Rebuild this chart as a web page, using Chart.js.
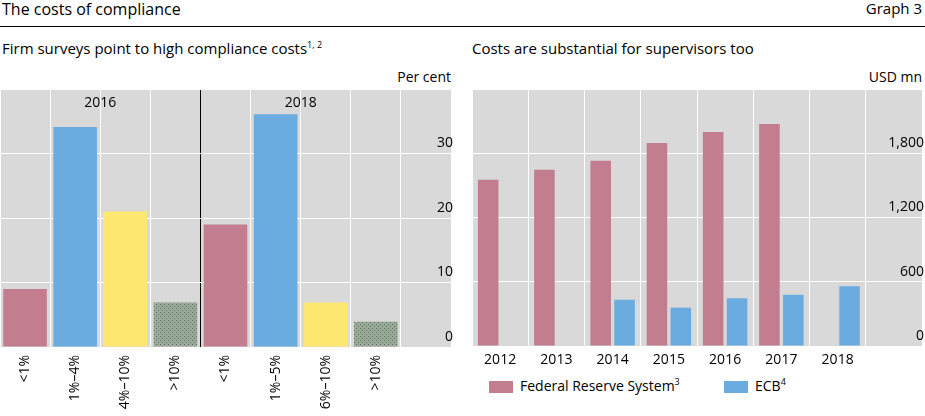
<!DOCTYPE html>
<html><head><meta charset="utf-8">
<script src="https://cdn.jsdelivr.net/npm/chart.js@4"></script>
<style>
body{margin:0;width:925px;height:416px;position:relative;font-family:"Open Sans",sans-serif;color:#000;background:#fff;overflow:hidden}
.t{position:absolute;white-space:nowrap}
canvas{position:absolute}
sup{font-size:9px;vertical-align:6px;line-height:0}
</style></head><body>
<div class="t" style="left:2px;top:-2px;font-size:16px">The costs of compliance</div>
<div class="t" style="right:3px;top:-2px;font-size:15px">Graph 3</div>
<div style="position:absolute;left:0;top:26px;width:925px;height:1px;background:#000"></div>
<div class="t" style="left:2px;top:38px;font-size:15px">Firm surveys point to high compliance costs<sup>1, 2</sup></div>
<div class="t" style="left:472px;top:38px;font-size:15px">Costs are substantial for supervisors too</div>
<div class="t" style="right:474px;top:67px;font-size:14px">Per cent</div>
<div class="t" style="right:3px;top:67px;font-size:14px">USD mn</div>
<div style="position:absolute;left:489px;top:381px;width:24px;height:12px;background:#c27e8f"></div>
<div class="t" style="left:520px;top:376px;font-size:14px">Federal Reserve System<sup>3</sup></div>
<div style="position:absolute;left:724px;top:381px;width:24px;height:12px;background:#6aace0"></div>
<div class="t" style="left:755px;top:376px;font-size:14px">ECB<sup>4</sup></div>
<canvas id="c1" style="left:0;top:60px"></canvas>
<canvas id="c2" style="left:465px;top:60px"></canvas>
<script>
const surveyCats = ['<1%','1%–4%','4%–10%','>10%','<1%','1%–5%','6%–10%','>10%',''];
const surveyVals = [9.0,34.1,21.0,6.9,19.0,36.1,6.9,3.9,null];
const groupLabels = ['2016','2018'];
const years = ['2012','2013','2014','2015','2016','2017','2018',''];
const fedVals = [1553,1646,1729,1896,1998,2072,null,null];
const ecbVals = [null,null,432,358,445,479,559,null];

const pc=document.createElement('canvas');pc.width=4;pc.height=4;
const px=pc.getContext('2d');px.fillStyle='#9aab9a';px.fillRect(0,0,4,4);px.fillStyle='#5e6e5e';px.fillRect(0,0,1,1);px.fillRect(2,2,1,1);
const greyPat=px.createPattern(pc,'repeat');
const cols=['#c27e8f','#6aace0','#ffe872',greyPat];
const font={family:'"Open Sans",sans-serif',size:14};
Chart.defaults.color='#000';Chart.defaults.font=font;
const bg={id:'bg',beforeDraw(c){const a=c.chartArea,x=c.ctx;x.save();x.fillStyle='#d9d9d9';x.fillRect(a.left,a.top,a.right-a.left,a.bottom-a.top);x.restore();}};
const grpLbl={id:'gl',afterDraw(c){const s=c.scales.x,x=c.ctx;x.save();x.font='14px "Open Sans",sans-serif';x.textAlign='center';x.fillStyle='#000';
 groupLabels.forEach((g,i)=>{const p=(s.getPixelForValue(i*4+1)+s.getPixelForValue(i*4+2))/2;x.fillText(g,p,c.chartArea.top+18);});x.restore();}};
function setup(id,w,h){const e=document.getElementById(id);e.width=w;e.height=h;e.style.width=w+'px';e.style.height=h+'px';return e;}
new Chart(setup('c1',455,356),{type:'bar',
 data:{labels:surveyCats,datasets:[{data:surveyVals,backgroundColor:cols.concat(cols),categoryPercentage:1,barPercentage:0.87}]},
 options:{responsive:false,animation:false,devicePixelRatio:1,layout:{padding:{top:29,left:0,right:4}},
 plugins:{legend:{display:false},tooltip:{enabled:false}},
 scales:{x:{grid:{offset:true,color:c=>c.index===4?'#000':'#fff',lineWidth:1,drawTicks:false},border:{display:false},
   ticks:{minRotation:90,maxRotation:90,autoSkip:false,padding:8},afterFit:s=>{s.height=69;}},
  y:{position:'right',min:0,max:40,grid:{color:'#fff',drawTicks:false},border:{display:false},
   ticks:{mirror:true,stepSize:10,padding:2,labelOffset:-10,callback:v=>v===40?'':v},afterFit:s=>{s.width=0;}}}},
 plugins:[bg,grpLbl]});
new Chart(setup('c2',460,356),{type:'bar',
 data:{labels:years,datasets:[
  {data:fedVals,backgroundColor:'#c27e8f',categoryPercentage:0.85,barPercentage:0.86},
  {data:ecbVals,backgroundColor:'#6aace0',categoryPercentage:0.85,barPercentage:0.86}]},
 options:{responsive:false,animation:false,devicePixelRatio:1,layout:{padding:{top:29,left:7,right:3}},
 plugins:{legend:{display:false},tooltip:{enabled:false}},
 scales:{x:{grid:{offset:true,color:'#fff',drawTicks:false},border:{display:false},
   ticks:{maxRotation:0,autoSkip:false,padding:6},afterFit:s=>{s.height=70;}},
  y:{position:'right',min:0,max:2400,grid:{color:'#fff',drawTicks:false},border:{display:false},
   ticks:{mirror:true,stepSize:600,padding:2,labelOffset:-10,callback:v=>v===2400?'':v.toLocaleString('en-US')},afterFit:s=>{s.width=0;}}}},
 plugins:[bg]});
</script></body></html>
